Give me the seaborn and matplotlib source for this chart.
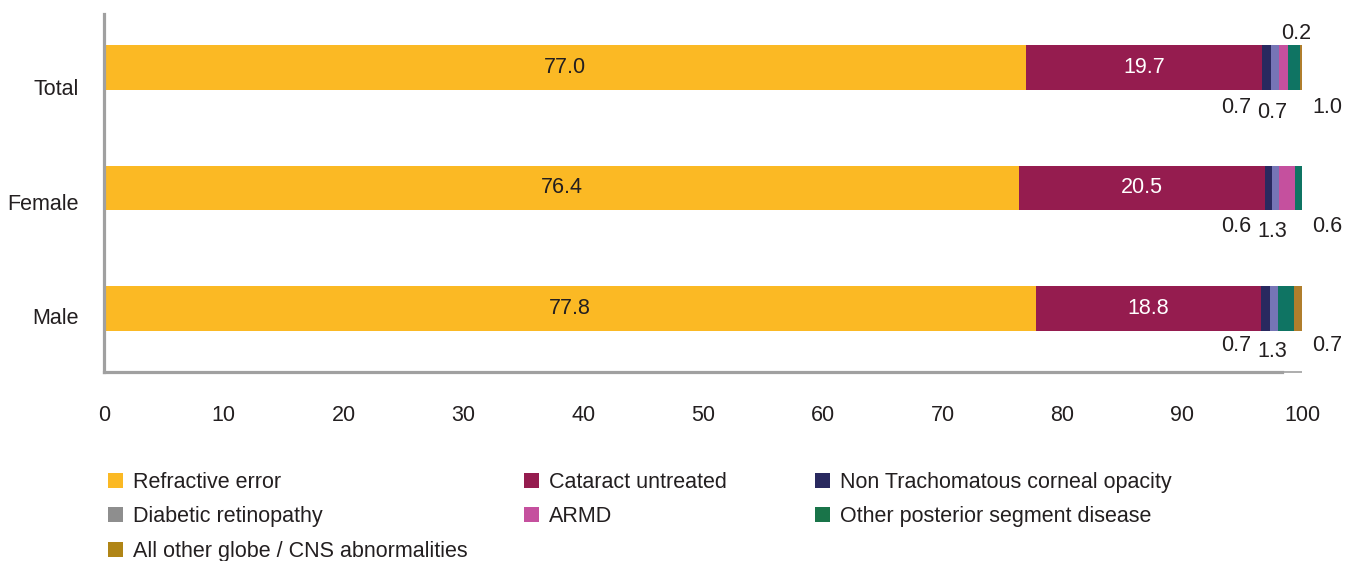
import matplotlib
matplotlib.use("Agg")
import matplotlib.pyplot as plt
from matplotlib.patches import Patch
import numpy as np
import pandas as pd
import seaborn as sns

# ---- data -------------------------------------------------------------
groups = ["Total", "Female", "Male"]
causes = [
    "Refractive error",
    "Cataract untreated",
    "Non Trachomatous corneal opacity",
    "Diabetic retinopathy",
    "ARMD",
    "Other posterior segment disease",
    "All other globe / CNS abnormalities",
]
refractive_error = [77.0, 76.4, 77.8]
cataract_untreated = [19.7, 20.5, 18.8]
corneal_opacity = [0.7, 0.6, 0.7]
diabetic_retinopathy = [0.7, 0.6, 0.7]
armd = [0.7, 1.3, 0.0]
other_posterior = [1.0, 0.6, 1.3]
other_globe_cns = [0.2, 0.0, 0.7]

series = [refractive_error, cataract_untreated, corneal_opacity,
          diabetic_retinopathy, armd, other_posterior, other_globe_cns]

bar_colors = ["#FBB924", "#951C4F", "#29295F", "#7675B6",
              "#C5509E", "#0F7463", "#B07E2C"]
legend_colors = ["#FBB924", "#951C4F", "#29295F", "#8E8E8E",
                 "#C5509E", "#197449", "#B08516"]

# small-segment callouts: (group index, cause index, x position, row offset)
callouts = [
    (0, 2, 94.5, 0.335), (0, 3, 97.5, 0.375), (0, 5, 102.1, 0.335), (0, 6, 99.5, -0.285),
    (1, 2, 94.5, 0.32), (1, 4, 97.5, 0.36), (1, 5, 102.1, 0.32),
    (2, 2, 94.5, 0.31), (2, 5, 97.5, 0.355), (2, 6, 102.1, 0.31),
]

# ---- style ------------------------------------------------------------
sns.set_style("white")
plt.rcParams["font.family"] = ["Liberation Sans", "DejaVu Sans"]
text_color = "#231F20"
axis_color = "#A0A0A0"
fs = 15.5

fig = plt.figure(figsize=(13.54, 5.61), dpi=100)
ax = fig.add_axes([104 / 1354, 1 - 372 / 561, 1198 / 1354, 358 / 561])

values = np.array(series)            # causes x groups
cum = np.cumsum(values, axis=0)

# stacked bars: draw cumulative totals from the widest down
for i in range(len(causes) - 1, -1, -1):
    df = pd.DataFrame({"group": groups, "value": cum[i]})
    sns.barplot(data=df, x="value", y="group", order=groups, orient="h",
                color=bar_colors[i], saturation=1, width=0.373,
                errorbar=None, ax=ax, linewidth=0)

ax.set_xlim(0, 100)
ax.set_ylim(2.527, -0.444)
ax.set_xlabel("")
ax.set_ylabel("")

# values inside the two large segments
for g in range(len(groups)):
    left = 0.0
    for i in (0, 1):
        v = values[i, g]
        ax.text(left + v / 2, g, f"{v:.1f}", ha="center", va="center",
                fontsize=fs, color=text_color if i == 0 else "white")
        left += v

for g, i, xpos, dy in callouts:
    ax.text(xpos, g + dy, f"{values[i, g]:.1f}", ha="center", va="center",
            fontsize=fs, color=text_color, clip_on=False)

# axes
ax.set_xticks(np.arange(0, 101, 10))
ax.set_xticklabels([str(t) for t in range(0, 101, 10)])
label_rows = [0.162, 1.12, 2.062]
ax.set_yticks(label_rows)
ax.set_yticklabels(groups)
ax.tick_params(axis="x", length=0, pad=24, labelsize=fs, labelcolor=text_color)
ax.tick_params(axis="y", length=0, pad=18, labelsize=fs, labelcolor=text_color)

for side in ("top", "right"):
    ax.spines[side].set_visible(False)
for side in ("left", "bottom"):
    ax.spines[side].set_color(axis_color)
    ax.spines[side].set_linewidth(2.3)
ax.spines["bottom"].set_bounds(0, 98.3)
ax.plot([98.3, 100], [2.527, 2.527], color=axis_color, lw=1.2,
        clip_on=False, solid_capstyle="butt")
ax.grid(False)

# legend laid out in three columns, row by row
col_x = [108 / 1354, 524 / 1354, 815 / 1354]
col_items = [[0, 3, 6], [1, 4], [2, 5]]
for cx, items in zip(col_x, col_items):
    handles = [Patch(facecolor=legend_colors[i], edgecolor="none", label=causes[i])
               for i in items]
    leg = fig.legend(handles=handles, loc="upper left",
                     bbox_to_anchor=(cx, 1 - 472 / 561), frameon=False,
                     fontsize=fs, handlelength=0.7, handleheight=0.7,
                     handletextpad=0.45, labelspacing=0.62, borderpad=0,
                     borderaxespad=0)
    for t in leg.get_texts():
        t.set_color(text_color)

fig.savefig("out.png", dpi=100)
